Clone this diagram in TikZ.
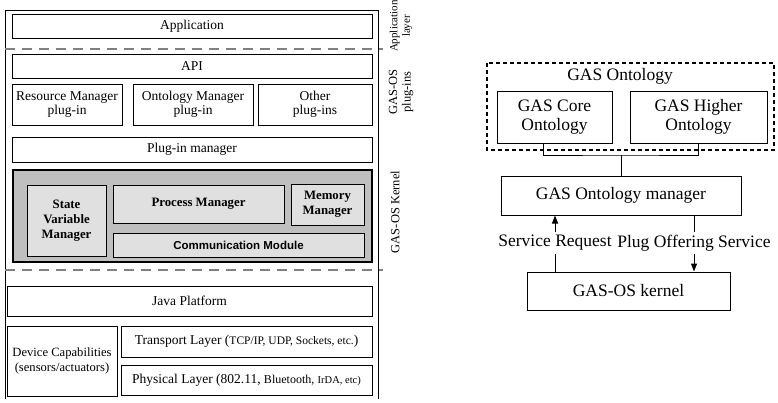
\documentclass[tikz,border=0pt]{standalone}
\usepackage{fontspec}
\setmainfont{Liberation Serif}
\newfontfamily\arialfont{Liberation Sans}
\usetikzlibrary{arrows.meta}
\definecolor{kerngray}{HTML}{BFBFBF}
\definecolor{modgray}{HTML}{E0E0E0}
\tikzset{
  lay/.style={draw, line width=0.8pt, inner sep=0pt, align=center, font=\fontsize{13.5}{14.5}\selectfont},
  mod/.style={lay, fill=modgray, font=\fontsize{12.8}{15}\selectfont\bfseries},
  side/.style={rotate=90, align=center, inner sep=0pt, font=\fontsize{12.5}{13.5}\selectfont},
  sep/.style={gray, line width=1.3pt, dash pattern=on 10pt off 7pt},
  gbox/.style={draw, line width=1pt, inner sep=0pt, align=center, font=\fontsize{17.5}{19}\selectfont},
  lbl/.style={inner sep=0pt, minimum height=21pt, font=\fontsize{17.5}{19}\selectfont},
  tip/.style={-{Triangle[width=6pt,length=8pt]}, line width=1pt}
}
\begin{document}
\begin{tikzpicture}[x=1pt, y=-1pt]
\useasboundingbox (0,0) rectangle (778,402);
% layered architecture
\draw[line width=0.8pt] (5,399) -- (5,10) -- (378,10) -- (378,399);
\node[lay, minimum width=360pt, minimum height=24pt] (app) at (192,26) {Application};
\draw[sep] (5,49) -- (383,49);
\node[lay, minimum width=360pt, minimum height=24pt] (api) at (192,66) {API};
\node[lay, minimum width=110pt, minimum height=41pt] (resplug) at (67,104.5) {Resource Manager\\plug-in};
\node[lay, minimum width=120pt, minimum height=41pt] (ontplug) at (193,104.5) {Ontology Manager\\plug-in};
\node[lay, minimum width=114pt, minimum height=41pt] (othplug) at (315,104.5) {Other\\plug-ins};
\node[lay, minimum width=360pt, minimum height=25pt] (plugmgr) at (192,149.5) {Plug-in manager};
\node[draw, line width=2pt, fill=kerngray, minimum width=359pt, minimum height=92pt] (kernel) at (192.5,216) {};
\node[mod, minimum width=79pt, minimum height=71pt] (statevar) at (66.5,220.5) {State\\Variable\\Manager};
\node[mod, minimum width=171pt, minimum height=38pt] (procmgr) at (198.5,204) {Process Manager};
\node[mod, minimum width=73pt, minimum height=41pt] (memmgr) at (327.5,204.5) {Memory\\Manager};
\node[mod, minimum width=251pt, minimum height=24pt, font=\arialfont\fontsize{11.5}{13}\selectfont\bfseries] (commod) at (238.5,245) {Communication Module};
\draw[sep] (5,270) -- (383,270);
\node[lay, minimum width=365pt, minimum height=30pt] (java) at (189.5,301) {Java Platform};
\node[lay, minimum width=110pt, minimum height=70pt, font=\fontsize{12.6}{15}\selectfont] (devcap) at (62,361) {Device Capabilities\\(sensors/actuators)};
\node[lay, minimum width=251pt, minimum height=31pt] (transp) at (246.5,341.5) {Transport Layer ({\fontsize{11.5}{12}\selectfont TCP/IP, UDP, Sockets, etc.})};
\node[lay, minimum width=251pt, minimum height=30pt] (phys) at (246.5,380) {Physical Layer (802.11, {\fontsize{12}{12}\selectfont Bluetooth,} {\fontsize{10.5}{12}\selectfont IrDA, etc)}};
\node[side, font=\fontsize{11}{12.5}\selectfont] (applayer) at (401,26) {Application\\layer};
\node[side] (pluglayer) at (401,92) {GAS-OS\\plug-ins};
\node[side] (kernlayer) at (395,212) {GAS-OS Kernel};
% ontology side
\draw[line width=1.6pt, dash pattern=on 4pt off 3pt] (487,63) rectangle (774,150);
\node[lbl, minimum height=0pt] (gasonto) at (620,76) {GAS Ontology};
\node[gbox, minimum width=115pt, minimum height=52pt] (core) at (554.5,117) {GAS Core\\Ontology};
\node[gbox, minimum width=137pt, minimum height=52pt] (higher) at (698.5,117) {GAS Higher\\Ontology};
\node[gbox, minimum width=240pt, minimum height=39pt] (ontomgr) at (621,195.5) {GAS Ontology manager};
\node[gbox, minimum width=203pt, minimum height=38pt] (oskern) at (628.5,291) {GAS-OS kernel};
\coordinate (bus) at (621,155);
\draw[line width=1pt] ([xshift=-11.5pt]core.south) |- (bus) -| (higher.south);
\draw[line width=1pt] (bus) -- (ontomgr.north);
\node[lbl] (sreq) at (555,243) {Service Request};
\node[lbl] (plugoff) at (694,243) {Plug Offering Service};
\draw[line width=1pt] (sreq.south |- oskern.north) -- (sreq.south);
\draw[tip] (sreq.north) -- (sreq.north |- ontomgr.south);
\draw[line width=1pt] (plugoff.north |- ontomgr.south) -- (plugoff.north);
\draw[tip] (plugoff.south) -- (plugoff.south |- oskern.north);
\end{tikzpicture}
\end{document}
